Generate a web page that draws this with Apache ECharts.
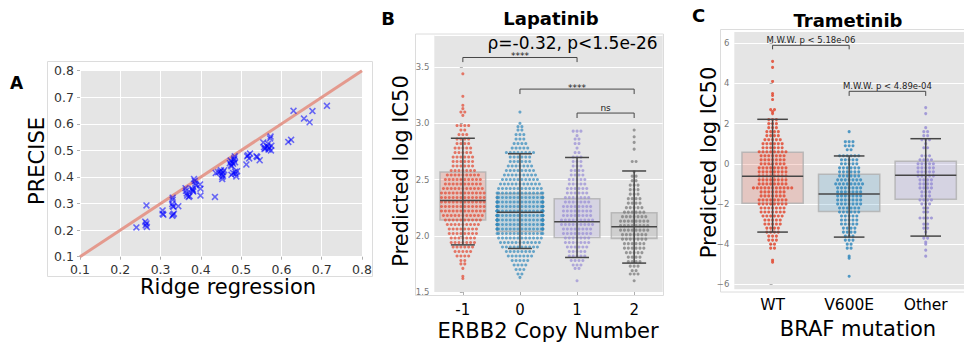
<!DOCTYPE html>
<html>
<head>
<meta charset="utf-8">
<script src="https://cdn.jsdelivr.net/npm/echarts@6/dist/echarts.min.js"></script>
<style>
  html, body { margin: 0; padding: 0; background: #ffffff; }
  #chart { width: 964px; height: 342px; }
</style>
</head>
<body>
<div id="chart"></div>
<script>
// ---------- Panel A: per-drug scores, ridge regression vs PRECISE ----------
const ridgeScores = [
  0.240, 0.265, 0.262, 0.265, 0.263, 0.266, 0.305, 0.305, 0.307, 0.330,
  0.330, 0.329, 0.330, 0.332, 0.333, 0.329, 0.331, 0.344, 0.362, 0.363,
  0.365, 0.366, 0.370, 0.372, 0.378, 0.380, 0.381, 0.380, 0.383, 0.385,
  0.386, 0.388, 0.398, 0.399, 0.399, 0.435, 0.437, 0.443, 0.448, 0.450,
  0.452, 0.453, 0.453, 0.455, 0.458, 0.455, 0.472, 0.474, 0.475, 0.476,
  0.476, 0.478, 0.480, 0.482, 0.483, 0.484, 0.485, 0.485, 0.486, 0.488,
  0.490, 0.480, 0.513, 0.515, 0.517, 0.520, 0.522, 0.538, 0.540, 0.546,
  0.555, 0.557, 0.558, 0.560, 0.565, 0.567, 0.568, 0.570, 0.572, 0.573,
  0.574, 0.575, 0.617, 0.624, 0.630, 0.656, 0.670, 0.677, 0.713
];
const preciseScores = [
  0.210, 0.293, 0.232, 0.225, 0.218, 0.212, 0.274, 0.262, 0.258, 0.322,
  0.314, 0.298, 0.290, 0.288, 0.262, 0.254, 0.258, 0.290, 0.358, 0.348,
  0.338, 0.330, 0.325, 0.328, 0.355, 0.348, 0.345, 0.352, 0.392, 0.385,
  0.375, 0.368, 0.372, 0.356, 0.330, 0.325, 0.415, 0.418, 0.420, 0.425,
  0.410, 0.400, 0.392, 0.418, 0.425, 0.405, 0.452, 0.462, 0.445, 0.440,
  0.408, 0.455, 0.450, 0.465, 0.470, 0.478, 0.455, 0.420, 0.412, 0.402,
  0.422, 0.415, 0.447, 0.478, 0.482, 0.470, 0.488, 0.478, 0.475, 0.463,
  0.530, 0.512, 0.505, 0.508, 0.515, 0.525, 0.503, 0.510, 0.545, 0.552,
  0.500, 0.518, 0.532, 0.540, 0.649, 0.620, 0.606, 0.648, 0.668
];
const identityEnds = [0.1, 0.8];
const scoreTicks = [0.1, 0.8, 0.1]; // min, max, step

// ---------- Panel B: Lapatinib, by ERBB2 copy number ----------
const copyNumberLabels = ['-1', '0', '1', '2'];
// [predicted log IC50, number of samples at that level]
const lapatinibCnLoss = [
  [3.44,1],[3.24,1],[3.16,1],[3.13,1],[3.10,2],[3.07,1],[2.98,4],[2.94,2],[2.90,3],[2.86,4],
  [2.82,4],[2.78,5],[2.74,5],[2.70,6],[2.66,6],[2.62,6],[2.58,7],[2.54,9],[2.50,10],[2.46,10],
  [2.42,11],[2.38,12],[2.34,12],[2.30,12],[2.26,12],[2.22,12],[2.18,11],[2.14,10],[2.10,9],[2.06,8],
  [2.02,8],[1.98,7],[1.94,7],[1.90,6],[1.86,5],[1.82,4],[1.78,2],[1.75,2],[1.71,1],[1.64,1],[1.62,1]
];
const lapatinibCnNeutral = [
  [3.10,1],[3.00,1],[2.97,2],[2.94,2],[2.90,3],[2.86,3],[2.82,4],[2.78,5],[2.74,8],[2.70,6],
  [2.66,6],[2.62,7],[2.58,8],[2.54,9],[2.50,10],[2.46,11],[2.42,12],[2.38,14],[2.34,16],[2.30,18],
  [2.26,20],[2.22,22],[2.18,22],[2.14,22],[2.10,20],[2.06,18],[2.02,14],[1.98,12],[1.94,11],[1.90,10],
  [1.86,8],[1.82,7],[1.78,5],[1.74,4],[1.70,3],[1.66,2],[1.63,1]
];
const lapatinibCnGain = [
  [2.93,3],[2.89,1],[2.86,2],[2.82,2],[2.78,1],[2.74,2],[2.70,3],[2.66,3],[2.62,3],[2.58,4],
  [2.54,4],[2.50,5],[2.46,5],[2.42,6],[2.38,6],[2.34,7],[2.30,7],[2.26,8],[2.22,8],[2.18,8],
  [2.14,9],[2.10,9],[2.06,8],[2.02,8],[1.98,7],[1.94,7],[1.90,6],[1.86,5],[1.82,5],[1.78,4],
  [1.74,3],[1.71,2],[1.60,1]
];
const lapatinibCnAmp = [
  [2.94,1],[2.88,1],[2.83,1],[2.77,1],[2.66,2],[2.57,1],[2.53,2],[2.49,2],[2.45,3],[2.41,3],
  [2.37,3],[2.33,4],[2.29,4],[2.25,5],[2.21,6],[2.17,7],[2.13,8],[2.09,8],[2.05,8],[2.01,7],
  [1.97,7],[1.93,6],[1.89,6],[1.85,5],[1.81,4],[1.77,4],[1.73,3],[1.69,2],[1.66,3],[1.60,1]
];
// [lower whisker, Q1, median, Q3, upper whisker]
const lapatinibBoxStats = [
  [1.919, 2.140, 2.313, 2.567, 2.867],
  [1.887, 2.037, 2.210, 2.373, 2.729],
  [1.807, 1.984, 2.125, 2.329, 2.696],
  [1.757, 1.975, 2.081, 2.205, 2.576]
];
const lapatinibPairs = [[0, 2], [1, 3], [2, 3]];
const lapatinibPairHeights = [[3.585, 3.544], [3.304, 3.260], [3.091, 3.047]];
const lapatinibPairLabels = ['****', '****', 'ns'];
const lapatinibTicks = [1.5, 3.785, 0.5];

// ---------- Panel C: Trametinib, by BRAF mutation ----------
const brafLabels = ['WT', 'V600E', 'Other'];
const trametinibWT = [
  [5.1,1],[4.8,1],[4.1,1],[3.5,1],[3.4,1],[3.2,1],[2.7,2],[2.6,1],[2.5,1],[2.2,3],
  [2.0,3],[1.8,3],[1.6,4],[1.4,4],[1.2,5],[1.0,6],[0.8,6],[0.6,8],[0.4,7],[0.2,7],
  [0.0,7],[-0.2,8],[-0.4,8],[-0.6,8],[-0.8,8],[-1.0,8],[-1.2,11],[-1.4,7],[-1.6,7],[-1.8,8],
  [-2.0,8],[-2.2,7],[-2.4,7],[-2.6,6],[-2.8,5],[-3.0,5],[-3.2,4],[-3.4,4],[-3.6,3],[-3.8,3],
  [-4.0,2],[-4.2,2],[-4.8,1],[-4.9,1]
];
const trametinibV600E = [
  [1.6,1],[1.1,3],[0.9,3],[0.7,2],[0.4,6],[0.2,5],[0.0,5],[-0.2,6],[-0.4,6],[-0.6,6],
  [-0.8,7],[-1.0,8],[-1.2,7],[-1.4,7],[-1.6,7],[-1.8,7],[-2.0,7],[-2.2,6],[-2.4,6],[-2.6,5],
  [-2.8,5],[-3.0,5],[-3.2,4],[-3.4,4],[-3.6,3],[-3.8,3],[-4.0,2],[-4.2,2],[-4.6,1],[-4.7,1],
  [-5.6,1]
];
const trametinibOther = [
  [2.8,1],[2.5,1],[1.8,1],[1.6,2],[1.4,2],[1.2,3],[1.0,1],[0.8,2],[0.4,3],[0.2,4],
  [0.0,5],[-0.2,5],[-0.4,5],[-0.6,5],[-0.8,4],[-1.0,4],[-1.2,4],[-1.4,3],[-1.6,3],[-1.8,4],
  [-2.0,3],[-2.2,2],[-2.4,2],[-2.7,4],[-3.0,2],[-3.2,2],[-3.4,1],[-3.7,2],[-3.9,1],[-4.0,1],
  [-4.3,1],[-4.6,1]
];
const trametinibBoxStats = [
  [-3.40, -1.97, -0.624, 0.572, 2.215],
  [-3.65, -2.37, -1.505, -0.52, 0.39],
  [-3.60, -1.77, -0.575, 0.123, 1.25]
];
const trametinibPairs = [[0, 1], [1, 2]];
const trametinibPairHeights = [[5.90, 5.70], [3.61, 3.38]];
const trametinibPairLabels = ['M.W.W. p < 5.18e-06', 'M.W.W. p < 4.89e-04'];
const trametinibTicks = [-6, 6, 2];

// ---------- styling ----------
const FONT = 'DejaVu Sans';
const PANEL_BG = '#e5e5e5';
const palette = ['#E24A33', '#348ABD', '#988ED5', '#777777'];
const lineInk = '#464646';

function withAlpha(hex, a) {
  const n = parseInt(hex.slice(1), 16);
  return 'rgba(' + (n >> 16) + ',' + ((n >> 8) & 255) + ',' + (n & 255) + ',' + a + ')';
}

// Lay each level's samples side by side around the category centre,
// squeezing anything past the band edge onto the edge (swarm style).
function swarm(levels, center, step, half) {
  const pts = [];
  levels.forEach(function (lv) {
    const v = lv[0], n = lv[1];
    for (let k = 0; k < n; k++) {
      let off = (k - (n - 1) / 2) * step;
      off = Math.max(-half, Math.min(half, off));
      pts.push([center + off, v]);
    }
  });
  return pts;
}

function boxRects(params, api) {
  const i = api.value(0);
  const a = api.coord([i - 0.4, api.value(4)]);
  const b = api.coord([i + 0.4, api.value(2)]);
  return {
    type: 'rect',
    shape: { x: a[0], y: a[1], width: b[0] - a[0], height: b[1] - a[1] },
    style: { fill: withAlpha(palette[params.dataIndex], 0.2), stroke: 'rgba(175,175,175,0.8)', lineWidth: 1.5 }
  };
}

function boxLines(capHalf) {
  return function (params, api) {
    const i = api.value(0), lo = api.value(1), med = api.value(3), hi = api.value(5);
    function seg(x1, y1, x2, y2) {
      const p = api.coord([x1, y1]), q = api.coord([x2, y2]);
      return { type: 'line', shape: { x1: p[0], y1: p[1], x2: q[0], y2: q[1] },
               style: { stroke: lineInk, lineWidth: 1.5 } };
    }
    return { type: 'group', children: [
      seg(i, lo, i, hi),
      seg(i - capHalf, lo, i + capHalf, lo),
      seg(i - capHalf, hi, i + capHalf, hi),
      seg(i - 0.4, med, i + 0.4, med)
    ] };
  };
}

// Significance brackets; asterisks sit high in their glyph box, so they are nudged down.
function brackets(labels, fontSize) {
  return function (params, api) {
    const x1 = api.value(0), x2 = api.value(1), yl = api.value(2), yt = api.value(3);
    const p0 = api.coord([x1, yt]), p1 = api.coord([x1, yl]);
    const p2 = api.coord([x2, yl]), p3 = api.coord([x2, yt]);
    const label = labels[params.dataIndex];
    const dy = label.charAt(0) === '*' ? 3 : -1;
    return { type: 'group', children: [
      { type: 'polyline', shape: { points: [p0, p1, p2, p3] },
        style: { stroke: lineInk, lineWidth: 1, fill: 'none' } },
      { type: 'text', x: (p1[0] + p2[0]) / 2, y: p1[1] + dy,
        style: { text: label, fill: '#222', font: fontSize + 'px ' + FONT,
                 align: 'center', verticalAlign: 'bottom', textAlign: 'center', textVerticalAlign: 'bottom' } }
    ] };
  };
}

const scatterA = ridgeScores.map(function (x, i) { return [x, preciseScores[i]]; });
const lapGroups = [lapatinibCnLoss, lapatinibCnNeutral, lapatinibCnGain, lapatinibCnAmp];
const traGroups = [trametinibWT, trametinibV600E, trametinibOther];

const series = [];
// Panel A
series.push({
  type: 'line', xAxisIndex: 0, yAxisIndex: 0, symbol: 'none', silent: true, z: 2,
  data: identityEnds.map(function (v) { return [v, v]; }),
  lineStyle: { color: '#e49a8e', width: 3 }
});
series.push({
  type: 'scatter', xAxisIndex: 0, yAxisIndex: 0, z: 3, data: scatterA,
  symbol: 'path://M0,1.6L1.6,0L5,3.4L8.4,0L10,1.6L6.6,5L10,8.4L8.4,10L5,6.6L1.6,10L0,8.4L3.4,5Z',
  symbolSize: 7, itemStyle: { color: 'rgba(0,0,255,0.7)' }
});
// Panel B
series.push({ type: 'custom', xAxisIndex: 2, yAxisIndex: 1, z: 1, renderItem: boxRects,
  data: lapatinibBoxStats.map(function (s, i) { return [i].concat(s); }) });
lapGroups.forEach(function (g, i) {
  series.push({ type: 'scatter', xAxisIndex: 2, yAxisIndex: 1, z: 2, symbolSize: 3.1,
    data: swarm(g, i, 0.068, 0.4), itemStyle: { color: palette[i], opacity: 0.72 } });
});
series.push({ type: 'custom', xAxisIndex: 2, yAxisIndex: 1, z: 3, renderItem: boxLines(0.21),
  data: lapatinibBoxStats.map(function (s, i) { return [i].concat(s); }) });
series.push({ type: 'custom', xAxisIndex: 2, yAxisIndex: 1, z: 4, renderItem: brackets(lapatinibPairLabels, 9),
  data: lapatinibPairs.map(function (p, i) { return [p[0], p[1]].concat(lapatinibPairHeights[i]); }) });
// Panel C
series.push({ type: 'custom', xAxisIndex: 4, yAxisIndex: 2, z: 1, renderItem: boxRects,
  data: trametinibBoxStats.map(function (s, i) { return [i].concat(s); }) });
traGroups.forEach(function (g, i) {
  series.push({ type: 'scatter', xAxisIndex: 4, yAxisIndex: 2, z: 2, symbolSize: 3.1,
    data: swarm(g, i, 0.05, 0.4), itemStyle: { color: palette[i], opacity: 0.85 } });
});
series.push({ type: 'custom', xAxisIndex: 4, yAxisIndex: 2, z: 3, renderItem: boxLines(0.2),
  data: trametinibBoxStats.map(function (s, i) { return [i].concat(s); }) });
series.push({ type: 'custom', xAxisIndex: 4, yAxisIndex: 2, z: 4, renderItem: brackets(trametinibPairLabels, 8.5),
  data: trametinibPairs.map(function (p, i) { return [p[0], p[1]].concat(trametinibPairHeights[i]); }) });

const smallTick = { show: true, length: 3, lineStyle: { color: '#b0b0b0' } };
const whiteGrid = { show: true, lineStyle: { color: '#ffffff', width: 1 } };

const option = {
  animation: false,
  grid: [
    { left: 80, top: 70.7, width: 282, height: 186, show: true, backgroundColor: PANEL_BG, borderWidth: 0 },
    { left: 434.3, top: 35, width: 228.4, height: 257, show: true, backgroundColor: PANEL_BG, borderWidth: 0 },
    { left: 734.3, top: 43.3, width: 229.7, height: 241, show: false }
  ],
  xAxis: [
    { type: 'value', gridIndex: 0, min: scoreTicks[0], max: scoreTicks[1], interval: scoreTicks[2],
      axisLine: { show: false }, axisTick: smallTick, splitLine: whiteGrid,
      axisLabel: { margin: 6, color: '#333', fontFamily: FONT, fontSize: 12.5,
        formatter: function (v) { return v.toFixed(1); } } },
    { type: 'category', gridIndex: 1, data: copyNumberLabels, boundaryGap: true,
      axisLine: { show: false }, axisTick: { show: true, alignWithLabel: true, length: 3, lineStyle: { color: '#b0b0b0' } },
      splitLine: { show: false },
      axisLabel: { margin: 10, color: '#000', fontFamily: FONT, fontSize: 15 } },
    { type: 'value', gridIndex: 1, min: -0.5, max: 3.5, show: false, splitLine: { show: false } },
    { type: 'category', gridIndex: 2, data: brafLabels, boundaryGap: true,
      axisLine: { show: false }, axisTick: { show: true, alignWithLabel: true, length: 3, lineStyle: { color: '#b0b0b0' } },
      splitLine: { show: false },
      axisLabel: { margin: 13, color: '#000', fontFamily: FONT, fontSize: 15.5 } },
    { type: 'value', gridIndex: 2, min: -0.5, max: 2.5, show: false, splitLine: { show: false } }
  ],
  yAxis: [
    { type: 'value', gridIndex: 0, min: scoreTicks[0], max: scoreTicks[1], interval: scoreTicks[2],
      axisLine: { show: false }, axisTick: smallTick, splitLine: whiteGrid,
      axisLabel: { margin: 6, color: '#333', fontFamily: FONT, fontSize: 12.5,
        formatter: function (v) { return v.toFixed(1); } } },
    { type: 'value', gridIndex: 1, min: lapatinibTicks[0], max: lapatinibTicks[1], interval: lapatinibTicks[2],
      axisLine: { show: false }, axisTick: smallTick, splitLine: whiteGrid,
      axisLabel: { margin: 5, color: '#777', fontFamily: FONT, fontSize: 8.5, showMaxLabel: false,
        formatter: function (v) { return v.toFixed(1); } } },
    { type: 'value', gridIndex: 2, min: trametinibTicks[0], max: trametinibTicks[1], interval: trametinibTicks[2],
      axisLine: { show: false }, axisTick: smallTick, splitLine: whiteGrid,
      axisLabel: { margin: 5, color: '#777', fontFamily: FONT, fontSize: 8.5,
        formatter: function (v) { return String(v).replace('-', '\u2212'); } } }
  ],
  graphic: [
    // panel frames
    { type: 'rect', z: -20, silent: true, shape: { x: 47.5, y: 61.5, width: 325, height: 215 },
      style: { fill: 'none', stroke: '#dcdcdc', lineWidth: 1 } },
    { type: 'rect', z: -20, silent: true, shape: { x: 415.5, y: 34, width: 248, height: 261.5 },
      style: { fill: 'none', stroke: '#dcdcdc', lineWidth: 1 } },
    { type: 'rect', z: -20, silent: true, shape: { x: 720.5, y: 29.5, width: 260, height: 262.5 },
      style: { fill: 'none', stroke: '#dcdcdc', lineWidth: 1 } },
    // panel C plotting background
    { type: 'rect', z: -10, silent: true, shape: { x: 734.3, y: 32, width: 229.7, height: 257.3 },
      style: { fill: PANEL_BG } },
    // panel letters and titles
    { type: 'text', x: 16.5, y: 83, style: { text: 'A', font: 'bold 17px ' + FONT, fill: '#000', align: 'center', verticalAlign: 'middle' } },
    { type: 'text', x: 388, y: 18.5, style: { text: 'B', font: 'bold 18px ' + FONT, fill: '#000', align: 'center', verticalAlign: 'middle' } },
    { type: 'text', x: 698.5, y: 15, style: { text: 'C', font: 'bold 18px ' + FONT, fill: '#000', align: 'center', verticalAlign: 'middle' } },
    { type: 'text', x: 551, y: 18.5, style: { text: 'Lapatinib', font: 'bold 18px ' + FONT, fill: '#000', align: 'center', verticalAlign: 'middle' } },
    { type: 'text', x: 848, y: 20.5, style: { text: 'Trametinib', font: 'bold 18px ' + FONT, fill: '#000', align: 'center', verticalAlign: 'middle' } },
    { type: 'text', x: 487.5, y: 42.5, z: 10, style: { text: '\u03c1=-0.32, p<1.5e-26', font: '17px ' + FONT, fill: '#000', align: 'left', verticalAlign: 'middle' } },
    // axis titles
    { type: 'text', x: 228, y: 287, style: { text: 'Ridge regression', font: '21px ' + FONT, fill: '#000', align: 'center', verticalAlign: 'middle' } },
    { type: 'text', x: 37, y: 161, rotation: Math.PI / 2, style: { text: 'PRECISE', font: '21px ' + FONT, fill: '#000', align: 'center', verticalAlign: 'middle' } },
    { type: 'text', x: 548, y: 331, style: { text: 'ERBB2 Copy Number', font: '21px ' + FONT, fill: '#000', align: 'center', verticalAlign: 'middle' } },
    { type: 'text', x: 401, y: 171, rotation: Math.PI / 2, style: { text: 'Predicted log IC50', font: '21px ' + FONT, fill: '#000', align: 'center', verticalAlign: 'middle' } },
    { type: 'text', x: 858, y: 329, style: { text: 'BRAF mutation', font: '21px ' + FONT, fill: '#000', align: 'center', verticalAlign: 'middle' } },
    { type: 'text', x: 709, y: 162.5, rotation: Math.PI / 2, style: { text: 'Predicted log IC50', font: '21px ' + FONT, fill: '#000', align: 'center', verticalAlign: 'middle' } }
  ],
  series: series
};

const chart = echarts.init(document.getElementById('chart'), null, { renderer: 'svg' });
chart.setOption(option);
</script>
</body>
</html>
